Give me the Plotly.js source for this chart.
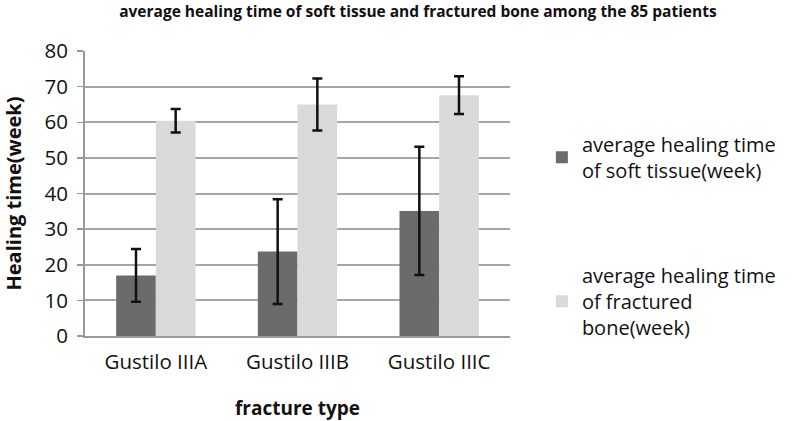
<!DOCTYPE html>
<html>
<head>
<meta charset="utf-8">
<script src="https://cdn.plot.ly/plotly-3.0.1.min.js"></script>
<style>html,body{margin:0;padding:0;background:#fff;}#chart{width:793px;height:421px;}</style>
</head>
<body>
<div id="chart"></div>
<script>
const categories = ["Gustilo IIIA", "Gustilo IIIB", "Gustilo IIIC"];
const softTissue = [17.0, 23.7, 35.1];
const softTissueErr = [7.4, 14.7, 18.0];
const bone = [60.4, 65.0, 67.6];
const boneErr = [3.3, 7.3, 5.3];
const seriesNames = ["average healing time<br>of soft tissue(week)", "average healing time<br>of fractured<br>bone(week)"];
const yTicks = [0, 10, 20, 30, 40, 50, 60, 70, 80];

const FONT = "'Open Sans', sans-serif";

const traces = [
  {
    type: "bar", x: categories, y: softTissue, name: seriesNames[0], legendgroup: "a",
    marker: {color: "#6b6b6b"},
    error_y: {type: "data", array: softTissueErr, visible: true, color: "#111", thickness: 2.5, width: 5}
  },
  {
    type: "bar", x: categories, y: bone, name: seriesNames[1], legendgroup: "b",
    marker: {color: "#d9d9d9"},
    error_y: {type: "data", array: boneErr, visible: true, color: "#111", thickness: 2.5, width: 5}
  }
];

const layout = {
  width: 793, height: 421,
  margin: {l: 85, r: 281, t: 51, b: 85},
  paper_bgcolor: "#fff", plot_bgcolor: "#fff",
  font: {family: FONT, color: "#111"},
  title: {text: "<b>average healing time of soft tissue and fractured bone among the 85 patients</b>",
          font: {family: FONT, size: 15.5, color: "#111"}, x: 0.527, xanchor: "center", y: 0.972, yanchor: "middle"},
  barmode: "group", bargap: 0.44, bargroupgap: 0,
  xaxis: {
    title: {text: "<b>fracture type</b>", font: {family: FONT, size: 19, color: "#111"}, standoff: 28},
    tickfont: {family: FONT, size: 20.5, color: "#111"},
    ticklabelstandoff: 6,
    showline: true, linecolor: "#999", linewidth: 2, ticks: "", showgrid: false
  },
  yaxis: {
    title: {text: "<b>Healing time(week)</b>", font: {family: FONT, size: 20, color: "#111"}, standoff: 22},
    tickfont: {family: FONT, size: 20.5, color: "#111"},
    ticklabelstandoff: 5,
    range: [0, 80], tickvals: yTicks, ticktext: yTicks.map(String),
    showgrid: true, gridcolor: "#a6a6a6", gridwidth: 2,
    showline: true, linecolor: "#999", linewidth: 2,
    ticks: "outside", ticklen: 6, tickcolor: "#999", tickwidth: 1.5,
    zeroline: false
  },
  legend: {
    x: 1.075, y: 0.741, xanchor: "left", yanchor: "top",
    font: {family: FONT, size: 20, color: "#111"},
    traceorder: "grouped", tracegroupgap: 76,
    itemwidth: 30
  },
  showlegend: true
};

Plotly.newPlot("chart", traces, layout, {displayModeBar: false, staticPlot: true});
</script>
</body>
</html>
